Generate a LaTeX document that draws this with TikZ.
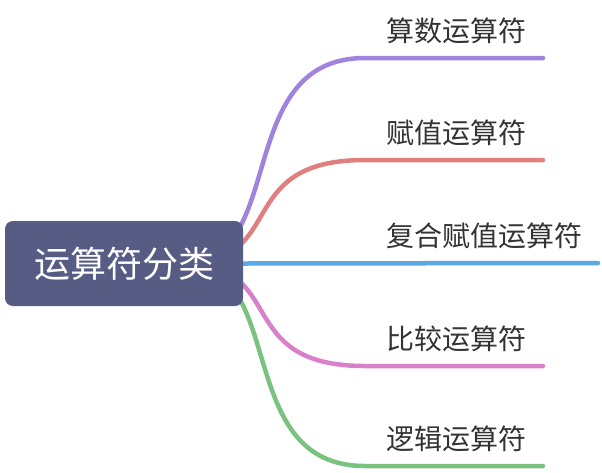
\documentclass[tikz,border=0pt]{standalone}
\usepackage{fontspec}
\setmainfont{Noto Sans CJK SC}
\usetikzlibrary{positioning}
\definecolor{rootfill}{HTML}{575C85}
\definecolor{leafgray}{HTML}{333333}
\definecolor{brpurple}{HTML}{A083DC}
\definecolor{brred}{HTML}{E17F7F}
\definecolor{brblue}{HTML}{5AA8E4}
\definecolor{brpink}{HTML}{D980CA}
\definecolor{brgreen}{HTML}{79C27F}
\pgfdeclarelayer{bg}
\pgfsetlayers{bg,main}
\begin{document}
\begin{tikzpicture}[x=1pt,y=-1pt,
  rootbox/.style={fill=rootfill,rounded corners=8pt,minimum width=238pt,minimum height=85pt,inner sep=0pt,text=white,font=\fontsize{36}{40}\selectfont},
  leaf/.style={anchor=west,inner sep=0pt,text=leafgray,font=\fontsize{28}{30}\selectfont},
  branch/.style={line width=4.5pt,line cap=round}]
\useasboundingbox (0,0) rectangle (602,472);
\node[rootbox] (root) at (124,263.5) {运算符分类};
% where each branch turns flat, and where it ends
\coordinate (k1) at (365,58);  \coordinate (t1) at (543,58);
\coordinate (k2) at (365,160); \coordinate (t2) at (543,160);
\coordinate (t3) at (598,263);
\coordinate (k4) at (365,366); \coordinate (t4) at (543,366);
\coordinate (k5) at (365,466); \coordinate (t5) at (543,466);
\node[leaf] (l1) at (386,31) {算数运算符};
\node[leaf] (l2) at (386,133) {赋值运算符};
\node[leaf] (l3) at (386,236) {复合赋值运算符};
\node[leaf] (l4) at (386,339) {比较运算符};
\node[leaf] (l5) at (386,439) {逻辑运算符};
\begin{pgfonlayer}{bg}
\draw[branch,brpurple] ([xshift=-60pt]root.east) .. controls +(106,0) and +(-134,0) .. (k1) -- (t1);
\draw[branch,brred] ([xshift=-60pt]root.east) .. controls +(106,0) and +(-134,0) .. (k2) -- (t2);
\draw[branch,brblue] (root.east) -- (t3);
\draw[branch,brpink] ([xshift=-60pt]root.east) .. controls +(106,0) and +(-134,0) .. (k4) -- (t4);
\draw[branch,brgreen] ([xshift=-60pt]root.east) .. controls +(106,0) and +(-134,0) .. (k5) -- (t5);
\end{pgfonlayer}
\end{tikzpicture}
\end{document}
